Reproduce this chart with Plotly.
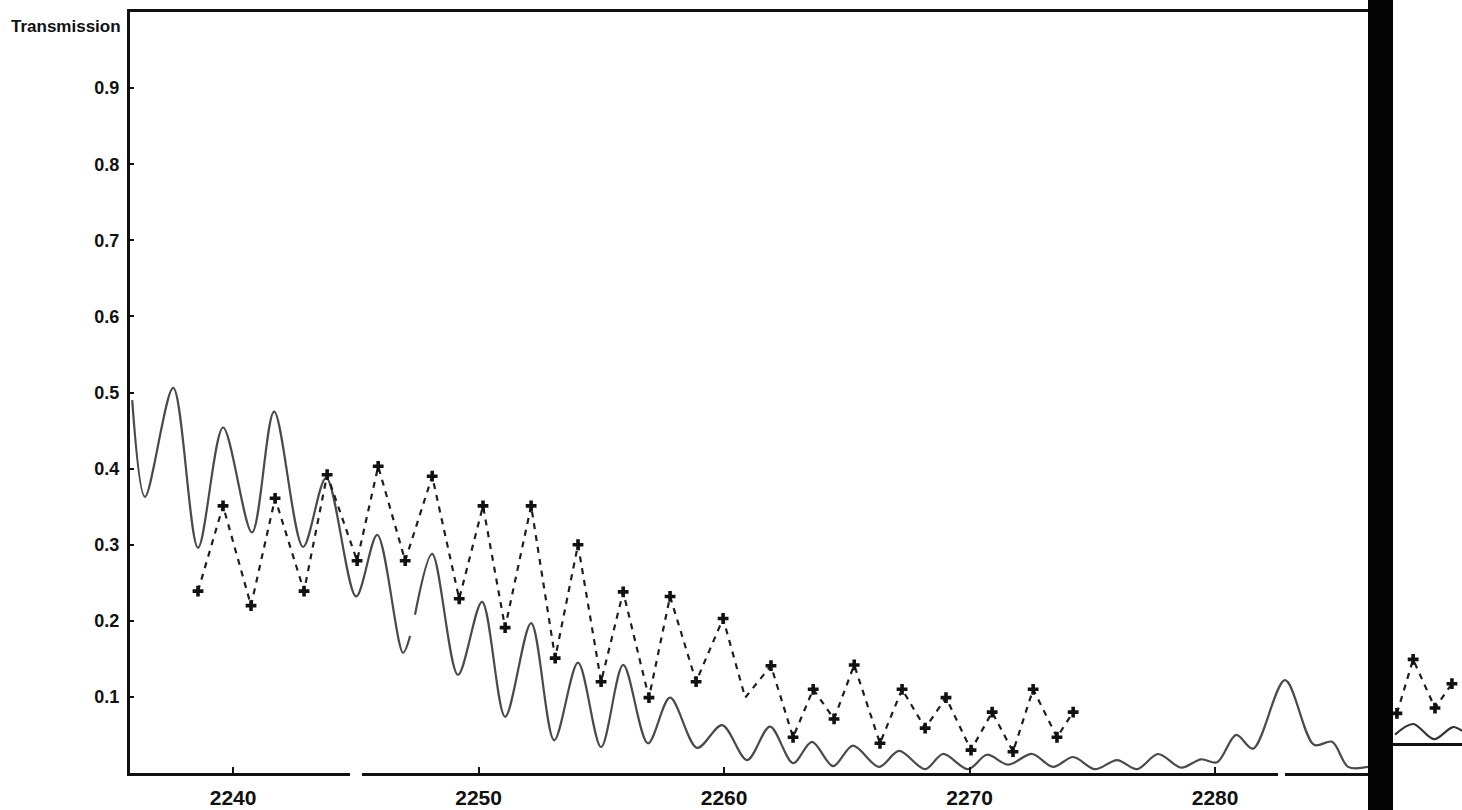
import plotly.graph_objects as go

# ---------------- data ----------------
# Solid curve (measured transmission); None marks the splice gap
solid_x = [2235.89, 2236.41, 2237.56, 2238.57, 2239.59, 2240.77, 2241.67, 2242.85,
           2243.79, 2245.01, 2245.87, 2246.92, 2247.21, None,
           2247.41, 2248.11, 2249.16, 2250.14, 2251.08, 2252.14, 2253.08, 2254.05,
           2254.99, 2255.89, 2256.90, 2257.80, 2258.90, 2259.92, 2260.94, 2261.87,
           2262.81, 2263.58, 2264.44, 2265.25, 2266.31, 2267.13, 2268.19, 2268.92,
           2269.94, 2270.71, 2271.57, 2272.55, 2273.40, 2274.22, 2275.11, 2276.01,
           2276.82, 2277.68, 2278.62, 2279.43, 2280.08, 2280.86, 2281.55, 2282.85,
           2284.03, 2284.77, 2285.42, 2286.23]
solid_y = [0.490, 0.363, 0.506, 0.296, 0.454, 0.316, 0.475, 0.297,
           0.388, 0.232, 0.313, 0.158, 0.180, None,
           0.208, 0.288, 0.129, 0.225, 0.074, 0.197, 0.043, 0.145,
           0.034, 0.142, 0.039, 0.099, 0.033, 0.063, 0.017, 0.061,
           0.013, 0.041, 0.009, 0.036, 0.008, 0.029, 0.005, 0.025,
           0.005, 0.024, 0.011, 0.025, 0.008, 0.021, 0.005, 0.017,
           0.005, 0.025, 0.007, 0.018, 0.014, 0.050, 0.032, 0.122,
           0.037, 0.041, 0.008, 0.008]

# Dashed curve with "+" markers (computed transmission)
dash_x = [2238.57, 2239.59, 2240.73, 2241.71, 2242.89, 2243.83, 2245.05, 2245.91,
          2247.01, 2248.11, 2249.21, 2250.18, 2251.08, 2252.14, 2253.12, 2254.05,
          2254.99, 2255.89, 2256.94, 2257.80, 2258.86, 2259.96, 2260.86, 2261.91,
          2262.81, 2263.63, 2264.48, 2265.30, 2266.35, 2267.25, 2268.19, 2269.04,
          2270.06, 2270.92, 2271.77, 2272.59, 2273.56, 2274.22]
dash_y = [0.239, 0.351, 0.220, 0.361, 0.239, 0.392, 0.279, 0.403,
          0.279, 0.390, 0.229, 0.351, 0.191, 0.351, 0.151, 0.300,
          0.120, 0.238, 0.099, 0.232, 0.120, 0.203, 0.099, 0.141,
          0.047, 0.110, 0.071, 0.142, 0.039, 0.110, 0.059, 0.099,
          0.030, 0.080, 0.028, 0.110, 0.047, 0.080]
# point whose "+" marker did not print in the scan
unprinted_marker_x = 2260.86

# Partial neighbouring panel at the right edge (cut off in the scan)
right_solid_x = [2287.33, 2288.07, 2288.92, 2289.69, 2290.06]
right_solid_y = [0.011, 0.025, 0.005, 0.021, 0.016]
right_dash_x = [2287.41, 2288.07, 2288.96, 2289.65]
right_dash_y = [0.039, 0.110, 0.046, 0.078]

y_ticks = [0.1, 0.2, 0.3, 0.4, 0.5, 0.6, 0.7, 0.8, 0.9]
y_tick_text = ["0.1", "0.2", "0.3", "0.4", "0.5", "0.6", "0.7", "0.8", "0.9"]
x_ticks = [2240, 2250, 2260, 2270, 2280]
x_tick_text = ["2240", "2250", "2260", "2270", "2280"]

# ---------------- figure ----------------
W, H = 1462, 810
L, T, B = 130, 12, 37
PW = W - L
PH = H - T - B

def px_x(p):
    return (p - L) / PW

def px_y(p):
    return (H - B - p) / PH

FONT = "Liberation Sans, Arial, sans-serif"
mk_x = [x for x in dash_x if x != unprinted_marker_x]
mk_y = [y for x, y in zip(dash_x, dash_y) if x != unprinted_marker_x]
MARKER = dict(symbol="cross", size=9, color="#111111", line=dict(width=0))

fig = go.Figure()

fig.add_trace(go.Scatter(
    x=solid_x, y=solid_y, mode="lines",
    line=dict(color="#4a4a4a", width=2.2, shape="spline", smoothing=0.9),
    connectgaps=False, showlegend=False, hoverinfo="skip"))

fig.add_trace(go.Scatter(
    x=dash_x, y=dash_y, mode="lines",
    line=dict(color="#1e1e1e", width=2.2, dash="6px,6px"),
    showlegend=False, hoverinfo="skip"))

fig.add_trace(go.Scatter(
    x=mk_x, y=mk_y, mode="markers", marker=MARKER,
    showlegend=False, hoverinfo="skip"))

fig.add_trace(go.Scatter(
    x=right_solid_x, y=right_solid_y, mode="lines", xaxis="x2", yaxis="y2",
    line=dict(color="#333333", width=2.2, shape="spline", smoothing=0.9),
    showlegend=False, hoverinfo="skip"))

fig.add_trace(go.Scatter(
    x=right_dash_x, y=right_dash_y, mode="lines+markers", xaxis="x2", yaxis="y2",
    line=dict(color="#1e1e1e", width=2.2, dash="6px,6px"),
    marker=MARKER, showlegend=False, hoverinfo="skip"))

fig.update_layout(
    width=W, height=H,
    margin=dict(l=L, r=0, t=T, b=B, pad=0),
    paper_bgcolor="white", plot_bgcolor="white",
    font=dict(family=FONT, color="#111111"),
    xaxis=dict(
        domain=[0, px_x(1368)], range=[2235.80, 2286.23],
        showgrid=False, zeroline=False,
        showline=True, linecolor="#111111", linewidth=3, mirror=True,
        ticks="inside", ticklen=6, tickwidth=2, tickcolor="#111111",
        tickvals=x_ticks, ticktext=x_tick_text,
        tickfont=dict(family=FONT, size=21, color="#111111", weight="bold"),
        ticklabelstandoff=4,
    ),
    yaxis=dict(
        domain=[0, 1], range=[0, 1.0],
        showgrid=False, zeroline=False,
        showline=True, linecolor="#111111", linewidth=3,
        ticks="inside", ticklen=4, tickwidth=2, tickcolor="#111111",
        tickvals=y_ticks, ticktext=y_tick_text,
        tickfont=dict(family=FONT, size=18, color="#111111", weight="bold"),
        ticklabelstandoff=4,
    ),
    xaxis2=dict(
        domain=[px_x(1393), 1], range=[2287.25, 2290.06], anchor="y2",
        showgrid=False, zeroline=False, showline=True,
        linecolor="#111111", linewidth=3, showticklabels=False, ticks="",
    ),
    yaxis2=dict(
        domain=[px_y(743), px_y(515)], range=[0, 0.3], anchor="x2",
        visible=False,
    ),
    annotations=[dict(
        text="<b>Transmission</b>", xref="paper", yref="paper",
        x=px_x(123), y=px_y(27), xanchor="right", yanchor="middle",
        showarrow=False, font=dict(family=FONT, size=17, color="#111111"),
    )],
    shapes=[
        # dark vertical band (binding edge of the scanned page)
        dict(type="rect", xref="paper", yref="paper",
             x0=px_x(1368), x1=px_x(1393), y0=px_y(H + 5), y1=px_y(-5),
             fillcolor="#050505", line=dict(width=0), layer="above"),
        # small breaks in the printed baseline
        dict(type="rect", xref="paper", yref="paper",
             x0=px_x(350), x1=px_x(362), y0=px_y(777), y1=px_y(769),
             fillcolor="white", line=dict(width=0), layer="above"),
        dict(type="rect", xref="paper", yref="paper",
             x0=px_x(1278), x1=px_x(1285), y0=px_y(777), y1=px_y(769),
             fillcolor="white", line=dict(width=0), layer="above"),
    ],
)

fig.write_html("out.html")
